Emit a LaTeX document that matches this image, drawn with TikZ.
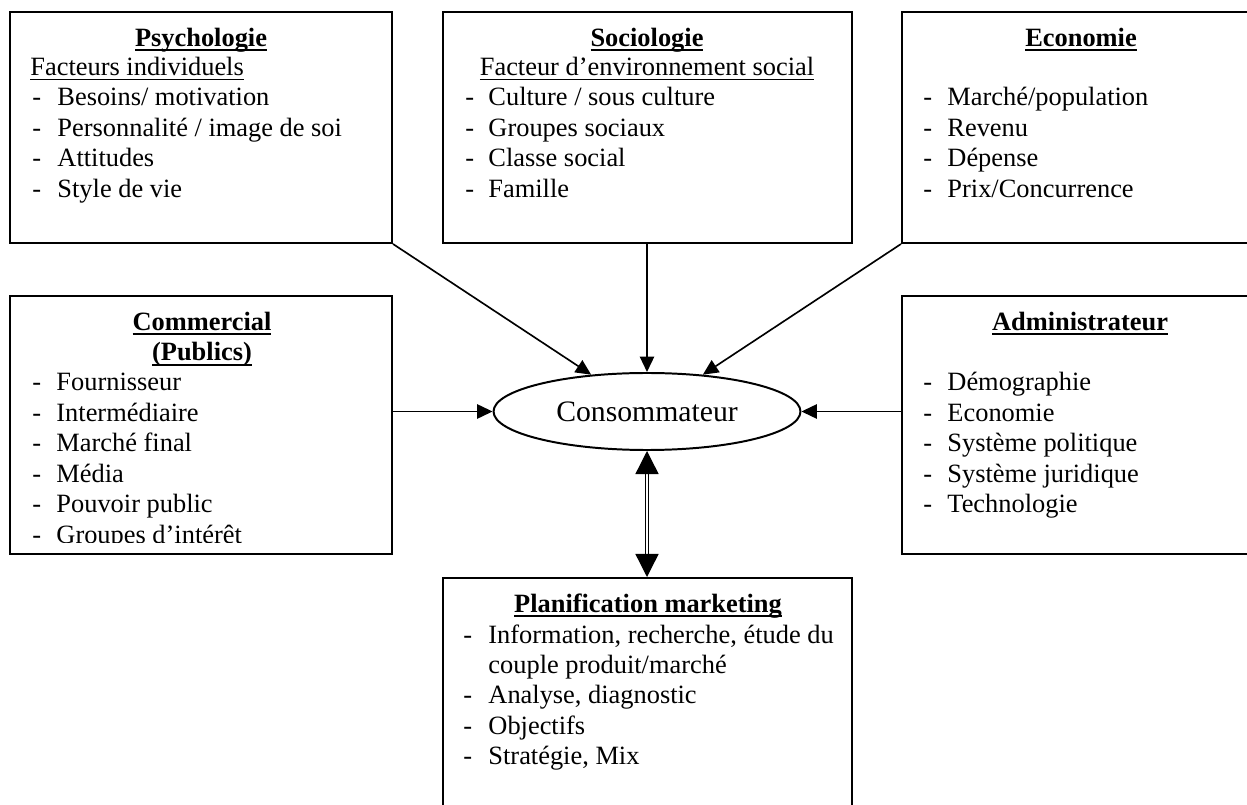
\documentclass[tikz,border=0pt]{standalone}
\usepackage{fontspec}
\setmainfont{Liberation Serif}
\usetikzlibrary{arrows.meta,shapes.geometric,fit}
\newcommand\ulx[3]{\setbox0\hbox{#3}\rlap{\raisebox{-#2}{\rule{\wd0}{#1}}}\box0}
\newcommand\ttltext[1]{\ulx{0.9pt}{2.2pt}{#1}}
\newcommand\subtext[1]{\ulx{0.6pt}{1.9pt}{#1}}
\begin{document}
\begin{tikzpicture}[x=0.4545pt,y=-0.4545pt,
  box/.style={draw,line width=0.9pt,inner sep=0pt},
  txt/.style={inner sep=0pt,anchor=base west,font=\fontsize{12}{14}\selectfont},
  ctxt/.style={inner sep=0pt,anchor=base,font=\fontsize{12}{14}\selectfont},
  ttl/.style={inner sep=0pt,anchor=base,font=\fontsize{12}{14}\selectfont\bfseries},
  arr/.style={line width=0.75pt,-{Triangle[length=7pt,width=6.5pt]}},
  dbl/.style={double,line width=0.6pt,double distance=1pt,{Triangle[length=10.5pt,width=10.5pt]}-{Triangle[length=10.5pt,width=10.5pt]}}]
\useasboundingbox (0,0) rectangle (1247,805);
\clip (0,0) rectangle (1247,805);
\fill[white] (0,0) rectangle (1247,805);

% boxes
\node[box,fit={(10,12)(392,243)}] (psy) {};
\node[box,fit={(443,12)(852,243)}] (soc) {};
\node[box,fit={(902,12)(1262,243)}] (eco) {};
\node[box,fit={(10,296)(392,554)}] (com) {};
\node[box,fit={(902,296)(1262,554)}] (adm) {};
\node[box,fit={(443,578)(852,830)}] (pla) {};
\node[draw,ellipse,line width=0.9pt,minimum width=139.5pt,minimum height=35pt,inner sep=0pt,
      font=\fontsize{13.5}{16}\selectfont] (c) at (647,411.5) {Consommateur};

% Psychologie
\node[ttl] (psyh) at (201,46.5) {\ttltext{Psychologie}};
\node[txt] (psys) at (30,76) {\subtext{Facteurs individuels}};
\foreach \t [count=\i from 0] in {Besoins/ motivation, Personnalité / image de soi, Attitudes, Style de vie}{
  \node[txt] (psyd\i) at (32,106+30.4*\i) {-};
  \node[txt] (psyt\i) at (57,106+30.4*\i) {\t};
}

% Sociologie
\node[ttl] (soch) at (647,46.5) {\ttltext{Sociologie}};
\node[ctxt] (socs) at (647,76) {\subtext{Facteur d’environnement social}};
\foreach \t [count=\i from 0] in {Culture / sous culture, Groupes sociaux, Classe social, Famille}{
  \node[txt] (socd\i) at (465,106+30.4*\i) {-};
  \node[txt] (soct\i) at (488,106+30.4*\i) {\t};
}

% Economie
\node[ttl] (ecoh) at (1081,46.5) {\ttltext{Economie}};
\foreach \t [count=\i from 0] in {Marché/population, Revenu, Dépense, Prix/Concurrence}{
  \node[txt] (ecod\i) at (923,106+30.4*\i) {-};
  \node[txt] (ecot\i) at (947,106+30.4*\i) {\t};
}

% Commercial
\begin{scope}
\clip (10,296) rectangle (392,542.5);
\node[ttl] (comh) at (202,330.5) {\ttltext{Commercial}};
\node[ttl] (comh2) at (202,361) {\ttltext{(Publics)}};
\foreach \t [count=\i from 0] in {Fournisseur, Intermédiaire, Marché final, Média, Pouvoir public, Groupes d’intérêt}{
  \node[txt] (comd\i) at (32,391+30.4*\i) {-};
  \node[txt] (comt\i) at (56,391+30.4*\i) {\t};
}
\end{scope}

% Administrateur
\node[ttl] (admh) at (1080,330.5) {\ttltext{Administrateur}};
\foreach \t [count=\i from 0] in {Démographie, Economie, Système politique, Système juridique, Technologie}{
  \node[txt] (admd\i) at (923,391+30.4*\i) {-};
  \node[txt] (admt\i) at (947,391+30.4*\i) {\t};
}

% Planification
\node[ttl] (plah) at (648,612.5) {\ttltext{Planification marketing}};
\node[txt] (plad0) at (463,643) {-};
\node[txt] (plat0) at (488,643) {Information, recherche, étude du};
\node[txt] (plat0b) at (488,673.4) {couple produit/marché};
\node[txt] (plad1) at (463,703.8) {-};
\node[txt] (plat1) at (488,703.8) {Analyse, diagnostic};
\node[txt] (plad2) at (463,734.2) {-};
\node[txt] (plat2) at (488,734.2) {Objectifs};
\node[txt] (plad3) at (463,764.6) {-};
\node[txt] (plat3) at (488,764.6) {Stratégie, Mix};

% connectors
\draw[arr] (psy.south east) -- (c);
\draw[arr] (soc.south -| c.north) -- (c.north);
\draw[arr] (eco.south west) -- (c);
\draw[arr] (c.west -| com.east) -- (c.west);
\draw[arr] (c.east -| adm.west) -- (c.east);
\draw[dbl] (c.south) -- (c.south |- pla.north);
\end{tikzpicture}
\end{document}
